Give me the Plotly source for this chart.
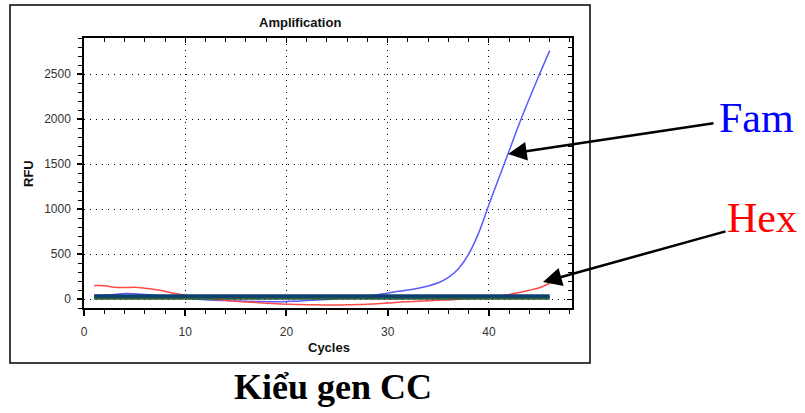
import plotly.graph_objects as go

cycles = list(range(1, 47))
fam = [40, 45, 50, 60, 58, 50, 42, 35, 22, 10, 0, -8, -14, -18, -22, -25, -28, -30, -30, -28,
       -24, -18, -12, -5, 2, 10, 20, 32, 48, 65, 85, 100, 120, 145, 180, 240, 340, 500, 740, 1050,
       1350, 1650, 1950, 2230, 2500, 2760]
hex_ = [150, 148, 130, 128, 130, 120, 105, 85, 60, 42, 25, 8, -5, -15, -25, -32, -40, -48, -52, -57,
        -60, -63, -65, -67, -67, -65, -62, -58, -52, -45, -35, -30, -25, -20, -15, -10, -3, 5, 12, 20,
        32, 50, 72, 97, 125, 175]
base_navy = [32, 32, 32, 32, 32, 32, 32, 32, 32, 32, 32, 32, 32, 32, 32, 32, 32, 32, 32, 32, 32, 32, 32,
             32, 32, 32, 32, 32, 32, 32, 32, 32, 32, 32, 32, 32, 32, 32, 32, 32, 32, 32, 32, 32, 32, 32]
base_green = [10, 10, 10, 10, 10, 10, 10, 10, 10, 10, 10, 10, 10, 10, 10, 10, 10, 10, 10, 10, 10, 10, 10,
              10, 10, 10, 10, 10, 10, 10, 10, 10, 10, 10, 10, 10, 10, 10, 10, 10, 10, 10, 10, 10, 10, 10]

x_range = [0, 48.2]
y_range = [-100, 2900]

# plot area in pixels
L, R, T, B = 84, 572, 38, 308
W, H = 805, 413
pw, ph = R - L, B - T


def px(x):
    return (x - L) / pw


def py(y):
    return (B - y) / ph


fig = go.Figure()
fig.add_trace(go.Scatter(x=cycles, y=fam, mode="lines", line=dict(color="#5a5aff", width=1.5, shape="spline"), showlegend=False))
fig.add_trace(go.Scatter(x=cycles, y=hex_, mode="lines", line=dict(color="#ff4a4a", width=1.5, shape="spline"), showlegend=False))
fig.add_trace(go.Scatter(x=cycles, y=base_green, mode="lines", line=dict(color="#2f6040", width=3.5), showlegend=False))
fig.add_trace(go.Scatter(x=cycles, y=base_navy, mode="lines", line=dict(color="#0d3f70", width=3.5), showlegend=False))

tickfont = dict(family="Liberation Sans, Arial", size=12, color="#333333")

fig.update_layout(
    width=W, height=H,
    margin=dict(l=L, r=W - R, t=T, b=H - B, pad=0),
    paper_bgcolor="white", plot_bgcolor="white",
    xaxis=dict(range=x_range, tickmode="linear", tick0=0, dtick=10,
               showgrid=True, gridcolor="black", griddash="1px,5px", gridwidth=1.2,
               zeroline=False, showline=True, linecolor="black", linewidth=1.5, mirror=True,
               ticks="outside", ticklen=6, tickwidth=1.5, tickcolor="black",
               minor=dict(dtick=2, ticks="outside", ticklen=4, tickcolor="black", tickwidth=1.2, showgrid=False),
               tickfont=tickfont, ticklabelstandoff=6),
    yaxis=dict(range=y_range, tickmode="linear", tick0=0, dtick=500,
               showgrid=True, gridcolor="black", griddash="1px,5px", gridwidth=1.2,
               zeroline=False, showline=True, linecolor="black", linewidth=1.5, mirror=True,
               ticks="outside", ticklen=5, tickwidth=1.5, tickcolor="black",
               minor=dict(dtick=100, ticks="outside", ticklen=4, tickcolor="black", tickwidth=1.2, showgrid=False),
               tickfont=tickfont, ticklabelstandoff=4),
    xaxis2=dict(range=x_range, overlaying="x", side="top", tickmode="linear", tick0=0, dtick=10,
                showgrid=False, zeroline=False, showticklabels=False,
                ticks="inside", ticklen=5, tickwidth=1.2, tickcolor="black",
                minor=dict(dtick=2, ticks="inside", ticklen=4, tickcolor="black", tickwidth=1.2)),
    yaxis2=dict(range=y_range, overlaying="y", side="right", tickmode="linear", tick0=0, dtick=500,
                showgrid=False, zeroline=False, showticklabels=False,
                ticks="inside", ticklen=5, tickwidth=1.2, tickcolor="black",
                minor=dict(dtick=100, ticks="inside", ticklen=4, tickcolor="black", tickwidth=1.2)),
)
# invisible trace so overlay axes render
fig.add_trace(go.Scatter(x=[None], y=[None], xaxis="x2", yaxis="y2", showlegend=False, hoverinfo="skip"))

# outer frame
fig.add_shape(type="rect", xref="paper", yref="paper", x0=px(10), x1=px(590), y0=py(363), y1=py(5),
              line=dict(color="black", width=1.5), fillcolor="rgba(0,0,0,0)", layer="below")

bold = dict(family="Liberation Sans, Arial", size=13, color="#111111")
fig.add_annotation(x=px(300), y=py(23), xref="paper", yref="paper", text="<b>Amplification</b>",
                   showarrow=False, font=bold, xanchor="center", yanchor="middle")
fig.add_annotation(x=px(28), y=py(174), xref="paper", yref="paper", text="<b>RFU</b>", textangle=-90,
                   showarrow=False, font=bold, xanchor="center", yanchor="middle")
fig.add_annotation(x=px(329), y=py(347), xref="paper", yref="paper", text="<b>Cycles</b>",
                   showarrow=False, font=bold, xanchor="center", yanchor="middle")
fig.add_annotation(x=px(333), y=py(387), xref="paper", yref="paper", text="<b>Kiểu gen CC</b>",
                   showarrow=False, font=dict(family="Liberation Serif, Times New Roman", size=36, color="black"),
                   xanchor="center", yanchor="middle")
fig.add_annotation(x=px(756), y=py(118), xref="paper", yref="paper", text="Fam",
                   showarrow=False, font=dict(family="Liberation Serif, Times New Roman", size=42, color="#0000ff"),
                   xanchor="center", yanchor="middle")
fig.add_annotation(x=px(762), y=py(218), xref="paper", yref="paper", text="Hex",
                   showarrow=False, font=dict(family="Liberation Serif, Times New Roman", size=42, color="#ff0000"),
                   xanchor="center", yanchor="middle")
# arrows
fig.add_annotation(x=px(508), y=py(154), xref="paper", yref="paper", text="", showarrow=True,
                   ax=715 - 508, ay=123 - 154, arrowhead=2, arrowsize=1.5, arrowwidth=2.5, arrowcolor="black")
fig.add_annotation(x=px(543), y=py(282), xref="paper", yref="paper", text="", showarrow=True,
                   ax=727 - 543, ay=231 - 282, arrowhead=2, arrowsize=1.5, arrowwidth=2.5, arrowcolor="black")

fig.write_html("out.html")
